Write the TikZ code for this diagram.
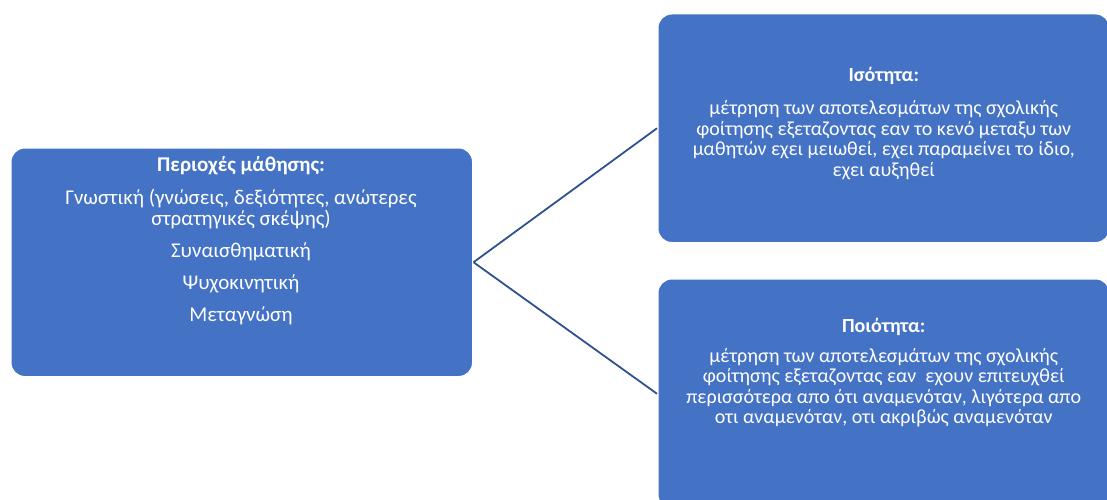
\documentclass[tikz,border=0pt]{standalone}
\usepackage{fontspec}
\setmainfont{Carlito}
\definecolor{boxblue}{HTML}{4472C4}
\definecolor{lineblue}{HTML}{2F528F}
\tikzset{
  box/.style={fill=boxblue, draw=white, line width=1.5pt, rounded corners=14pt, anchor=north west, inner sep=0pt},
  conn/.style={draw=lineblue, line width=1.8pt},
  txt/.style={text=white, align=center, font=\fontsize{20}{20.5}\selectfont, inner sep=0pt},
  ltxt/.style={txt, font=\fontsize{21}{21}\selectfont}
}
\begin{document}
\begin{tikzpicture}[x=1pt,y=-1pt]
\useasboundingbox (0,0) rectangle (1107,500);
\node[box, minimum width=462, minimum height=229] (L) at (10,147) {};
\node[box, minimum width=452, minimum height=229] (T) at (657,13) {};
\node[box, minimum width=452, minimum height=230] (B) at (657,278) {};
\draw[conn] (L.east) -- (T.west);
\draw[conn] (L.east) -- (B.west);
\node[ltxt, anchor=north] (Lt) at (241,156) {\textbf{Περιοχές μάθησης:}\\[12pt]
Γνωστική (γνώσεις, δεξιότητες, ανώτερες\\ στρατηγικές σκέψης)\\[11pt]
Συναισθηματική\\[11pt] Ψυχοκινητική\\[11pt] Μεταγνώση};
\node[txt, yshift=5pt] (Tt) at (T.center) {\textbf{Ισότητα:}\\[13pt]
μέτρηση των αποτελεσμάτων της σχολικής\\ φοίτησης εξεταζοντας εαν το κενό μεταξυ των\\ μαθητών εχει μειωθεί, εχει παραμείνει το ίδιο,\\ εχει αυξηθεί};
\node[txt, yshift=21pt] (Bt) at (B.center) {\textbf{Ποιότητα:}\\[9pt]
μέτρηση των αποτελεσμάτων της σχολικής\\ φοίτησης εξεταζοντας εαν\ \ εχουν επιτευχθεί\\ περισσότερα απο ότι αναμενόταν, λιγότερα απο\\ οτι αναμενόταν, οτι ακριβώς αναμενόταν};
\end{tikzpicture}
\end{document}
